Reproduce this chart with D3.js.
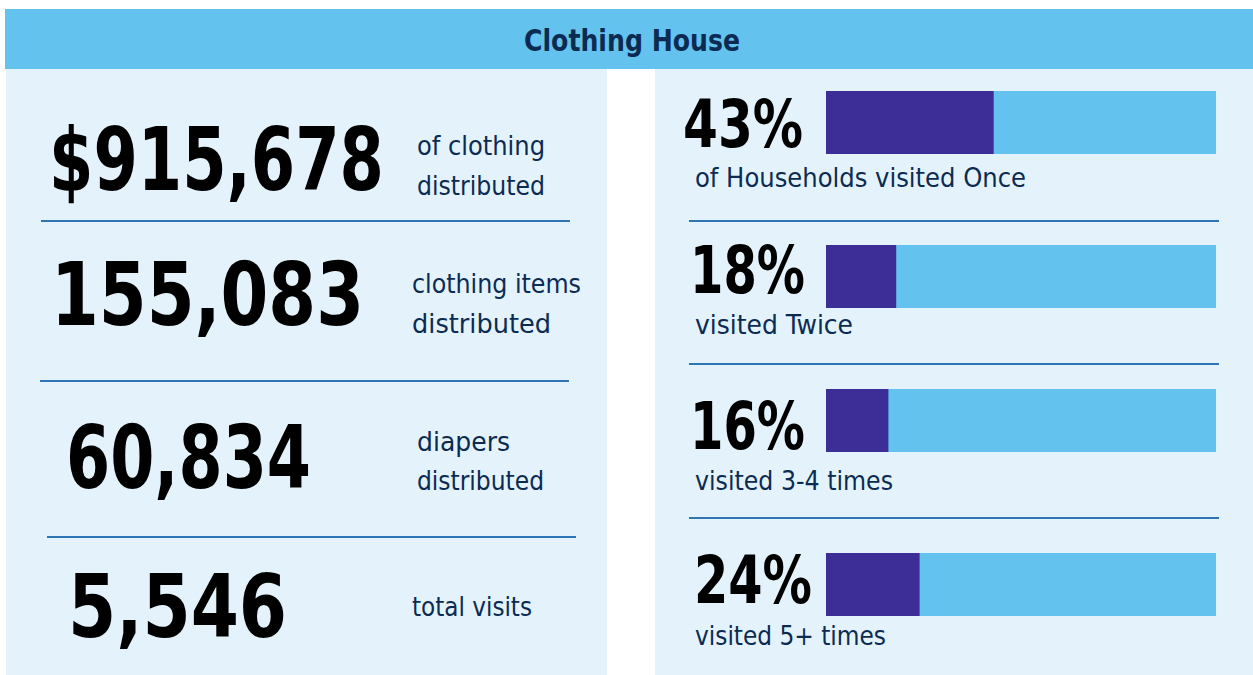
<!DOCTYPE html>
<html>
<head>
<meta charset="utf-8">
<script src="https://cdn.jsdelivr.net/npm/d3@7"></script>
<style>
  html, body { margin: 0; padding: 0; background: #ffffff; }
  svg { display: block; }
</style>
</head>
<body>
<svg id="chart" width="1253" height="675"></svg>
<script>
// ---- data ----
const title = "Clothing House";
const statValues = ["$915,678", "155,083", "60,834", "5,546"];
const statLabels = [["of clothing", "distributed"], ["clothing items", "distributed"], ["diapers", "distributed"], ["total visits"]];
const visitPercents = [43, 18, 16, 24];
const visitLabels = ["of Households visited Once", "visited Twice", "visited 3-4 times", "visited 5+ times"];

// ---- layout (not data) ----
const statLayout = [
  { nx: 49, nb: 190, nw: 335, lx: 417, lb: [155, 195], lw: [128, 128] },
  { nx: 51, nb: 325, nw: 313, lx: 412, lb: [293, 333], lw: [169, 139] },
  { nx: 66, nb: 488, nw: 245, lx: 417, lb: [451, 490], lw: [93, 127] },
  { nx: 68, nb: 637, nw: 219, lx: 412, lb: [616], lw: [120] }
];
const leftDividers = [{ y: 221, x1: 41, x2: 570 }, { y: 381, x1: 40, x2: 569 }, { y: 537, x1: 47, x2: 576 }];
const rightRows = [
  { top: 91, px: 683, pw: 120, pb: 147, lb: 187, lw: 331 },
  { top: 245, px: 690, pw: 115, pb: 293, lb: 334, lw: 158 },
  { top: 389, px: 690, pw: 115, pb: 449, lb: 490, lw: 198 },
  { top: 553, px: 694, pw: 118, pb: 603, lb: 645, lw: 191 }
];
const rightDividers = [221, 364, 518];

const C = {
  header: "#63C3EE", panel: "#E4F3FB", dark: "#3C2E96", light: "#63C3EE",
  rule: "#2E75B6", navy: "#0C2B52", black: "#000000"
};
const FONT = "'DejaVu Sans Condensed', 'DejaVu Sans', sans-serif";

const svg = d3.select("#chart");

// backgrounds
svg.append("rect").attr("x", 5).attr("y", 9).attr("width", 1248).attr("height", 60).attr("fill", C.header);
svg.append("rect").attr("x", 6).attr("y", 69).attr("width", 601).attr("height", 606).attr("fill", C.panel);
svg.append("rect").attr("x", 655).attr("y", 69).attr("width", 598).attr("height", 606).attr("fill", C.panel);

svg.append("text").attr("x", 632).attr("y", 51).attr("text-anchor", "middle")
  .attr("font-family", FONT).attr("font-weight", "bold").attr("font-size", 31)
  .attr("fill", C.navy).attr("textLength", 216).attr("lengthAdjust", "spacingAndGlyphs")
  .text(title);

// left stats
const left = svg.append("g");
statValues.forEach((v, i) => {
  const L = statLayout[i];
  left.append("text").attr("x", L.nx).attr("y", L.nb)
    .attr("font-family", FONT).attr("font-weight", "bold").attr("font-size", 88)
    .attr("fill", C.black).attr("textLength", L.nw).attr("lengthAdjust", "spacingAndGlyphs")
    .text(v);
  statLabels[i].forEach((t, j) => {
    left.append("text").attr("x", L.lx).attr("y", L.lb[j])
      .attr("font-family", FONT).attr("font-size", 26)
      .attr("fill", C.navy).attr("textLength", L.lw[j]).attr("lengthAdjust", "spacingAndGlyphs")
      .text(t);
  });
});
left.selectAll("line").data(leftDividers).join("line")
  .attr("x1", d => d.x1).attr("x2", d => d.x2).attr("y1", d => d.y).attr("y2", d => d.y)
  .attr("stroke", C.rule).attr("stroke-width", 2);

// right bars
const x = d3.scaleLinear().domain([0, 100]).range([826, 1216]);
const barH = 63;
const right = svg.append("g");
right.selectAll("rect.bg").data(visitPercents).join("rect").attr("class", "bg")
  .attr("x", x(0)).attr("y", (d, i) => rightRows[i].top)
  .attr("width", x(100) - x(0)).attr("height", barH).attr("fill", C.light);
right.selectAll("rect.fg").data(visitPercents).join("rect").attr("class", "fg")
  .attr("x", x(0)).attr("y", (d, i) => rightRows[i].top)
  .attr("width", d => x(d) - x(0)).attr("height", barH).attr("fill", C.dark);
right.selectAll("text.pct").data(visitPercents).join("text").attr("class", "pct")
  .attr("x", (d, i) => rightRows[i].px).attr("y", (d, i) => rightRows[i].pb)
  .attr("font-family", FONT).attr("font-weight", "bold").attr("font-size", 65)
  .attr("fill", C.black).attr("textLength", (d, i) => rightRows[i].pw).attr("lengthAdjust", "spacingAndGlyphs")
  .text(d => d + "%");
right.selectAll("text.lbl").data(visitLabels).join("text").attr("class", "lbl")
  .attr("x", 695).attr("y", (d, i) => rightRows[i].lb)
  .attr("font-family", FONT).attr("font-size", 27)
  .attr("fill", C.navy).attr("textLength", (d, i) => rightRows[i].lw).attr("lengthAdjust", "spacingAndGlyphs")
  .text(d => d);
right.selectAll("line").data(rightDividers).join("line")
  .attr("x1", 689).attr("x2", 1219).attr("y1", d => d).attr("y2", d => d)
  .attr("stroke", C.rule).attr("stroke-width", 2);
</script>
</body>
</html>
